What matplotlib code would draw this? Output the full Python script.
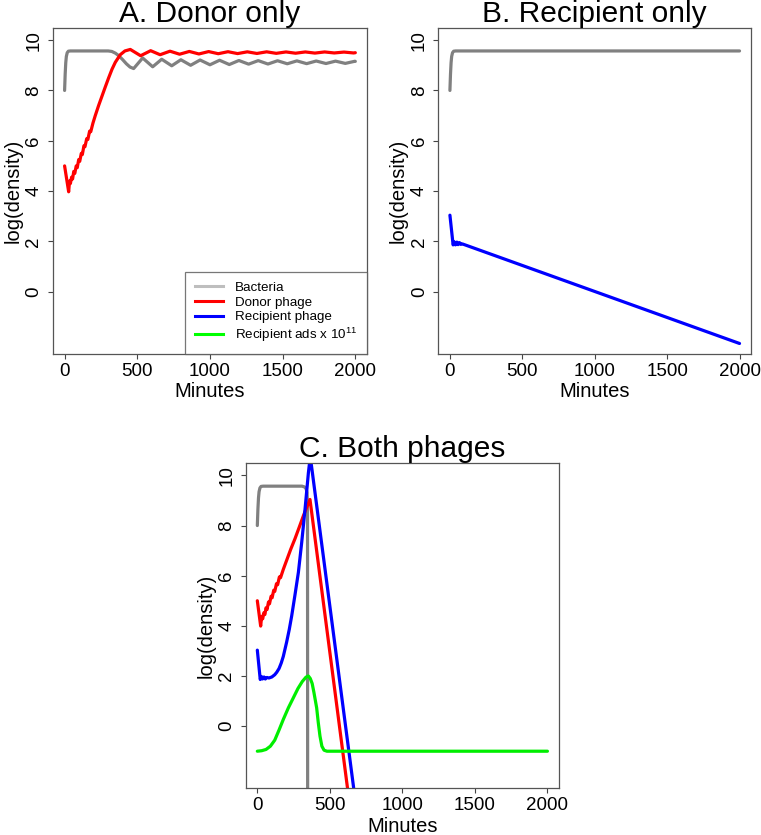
import matplotlib
matplotlib.use("Agg")
import matplotlib.pyplot as plt
from matplotlib.lines import Line2D

plt.rcParams['font.family'] = ['Liberation Sans', 'DejaVu Sans']
plt.rcParams['mathtext.default'] = 'regular'

# panel A: donor only
a_bact_t = [0, 4, 8, 12, 18, 26, 40, 300, 325, 350, 375, 400, 425, 450, 475,
            537, 606, 668, 737, 800, 867, 932, 1000, 1066, 1133, 1199, 1266,
            1332, 1399, 1465, 1532, 1598, 1665, 1731, 1798, 1864, 1931, 1997, 2000]
a_bact_y = [8.00, 8.65, 9.10, 9.35, 9.50, 9.56, 9.57, 9.57, 9.55, 9.48, 9.37, 9.22, 9.06, 8.93, 8.87,
            9.29, 8.94, 9.24, 8.98, 9.22, 9.00, 9.21, 9.02, 9.20, 9.03, 9.19, 9.045,
            9.185, 9.05, 9.18, 9.06, 9.175, 9.065, 9.17, 9.07, 9.165, 9.075, 9.16, 9.155]

a_donor_t = [0, 28, 34, 40, 48, 55, 63, 70, 80, 87, 97, 104, 115, 122, 133, 140,
             152, 160, 172, 180, 195, 211, 234, 257, 280, 303, 326, 349, 383, 415,
             452, 523, 592, 657, 725, 791, 858, 924, 991, 1057, 1124, 1190, 1257,
             1323, 1390, 1456, 1523, 1589, 1656, 1722, 1789, 1855, 1922, 1988, 2000]
a_donor_y = [5.00, 3.97, 4.40, 4.30, 4.55, 4.48, 4.78, 4.70, 5.00, 4.93, 5.25, 5.18, 5.50, 5.45, 5.80, 5.76,
             6.08, 6.05, 6.38, 6.36, 6.70, 7.00, 7.40, 7.77, 8.14, 8.50, 8.84, 9.12, 9.42, 9.57,
             9.63, 9.38, 9.58, 9.42, 9.56, 9.44, 9.55, 9.45, 9.545, 9.46, 9.54, 9.465, 9.535,
             9.47, 9.535, 9.475, 9.53, 9.48, 9.53, 9.485, 9.53, 9.49, 9.525, 9.49, 9.50]

# panel B: recipient only
b_bact_t = [0, 4, 8, 12, 18, 26, 40, 2000]
b_bact_y = [8.00, 8.65, 9.10, 9.35, 9.50, 9.56, 9.57, 9.57]
b_recip_t = [0, 22, 30, 38, 48, 56, 66, 75, 85, 2000]
b_recip_y = [3.04, 1.86, 1.98, 1.86, 1.97, 1.87, 1.95, 1.88, 1.90, -2.06]

# panel C: both phages
c_bact_t = [0, 4, 8, 12, 18, 26, 40, 308, 325, 337, 343, 346, 347]
c_bact_y = [8.00, 8.65, 9.10, 9.35, 9.50, 9.56, 9.57, 9.57, 9.54, 9.46, 9.30, 8.80, -4.0]
c_donor_t = [0, 23, 30, 37, 45, 52, 60, 67, 77, 84, 95, 102, 113, 120, 132, 140,
             152, 160, 179, 200, 230, 260, 290, 317, 340, 363, 650]
c_donor_y = [5.00, 3.99, 4.38, 4.28, 4.52, 4.45, 4.72, 4.65, 4.95, 4.88, 5.18, 5.12, 5.42, 5.37, 5.68, 5.64,
             5.95, 5.92, 6.25, 6.58, 7.05, 7.48, 7.95, 8.38, 8.72, 9.04, -3.73]
c_recip_t = [0, 20, 28, 36, 46, 55, 66, 80, 100, 120, 134, 150, 165, 179, 202, 220,
             237, 260, 283, 306, 329, 352, 365, 700]
c_recip_y = [3.03, 1.86, 1.98, 1.88, 1.96, 1.88, 1.94, 1.92, 1.96, 2.05, 2.15, 2.30, 2.52, 2.78, 3.35, 3.85,
             4.40, 5.25, 6.13, 7.33, 8.66, 10.10, 10.75, -4.05]
c_ads_t = [0, 30, 60, 90, 120, 150, 180, 214, 250, 280, 310, 335, 352, 365, 378,
           390, 409, 420, 432, 445, 460, 480, 2000]
c_ads_y = [-1.0, -0.98, -0.93, -0.80, -0.56, -0.15, 0.28, 0.73, 1.15, 1.50, 1.78, 1.95, 2.00, 1.90, 1.70,
           1.35, 0.73, 0.15, -0.40, -0.80, -0.96, -1.0, -1.0]

x_ticks = [0, 500, 1000, 1500, 2000]
y_ticks = [0, 2, 4, 6, 8, 10]

GREY = '#808080'
LW = 2.3


def setup(ax, title):
    ax.set_xlim(-80, 2080)
    ax.set_ylim(-2.48, 10.48)
    ax.set_xticks(x_ticks)
    ax.set_yticks(y_ticks)
    ax.tick_params(direction='out', length=3.6, width=0.8, color='#444444',
                   labelsize=13.5, pad=2.5)
    ax.tick_params(axis='y', labelrotation=90, pad=4)
    for lab in ax.get_yticklabels():
        lab.set_va('center')
    for s in ax.spines.values():
        s.set_color('#555555')
        s.set_linewidth(0.9)
    ax.set_xlabel('Minutes', fontsize=14.5, labelpad=2)
    ax.set_ylabel('log(density)', fontsize=14.5, labelpad=2)
    ax.set_title(title, fontsize=21.5, pad=1.5)


def line(ax, t, y, c):
    ax.plot(t, y, color=c, lw=LW, solid_capstyle='round', solid_joinstyle='round')


fig = plt.figure(figsize=(7.61, 8.35), dpi=100)
axA = fig.add_axes([0.0696, 0.576, 0.4126, 0.3904])
axB = fig.add_axes([0.576, 0.576, 0.411, 0.3904])
axC = fig.add_axes([0.3229, 0.0559, 0.4117, 0.3892])

line(axA, a_bact_t, a_bact_y, GREY)
line(axA, a_donor_t, a_donor_y, 'red')
setup(axA, 'A. Donor only')

handles = [Line2D([], [], color='#bebebe', lw=2.2),
           Line2D([], [], color='red', lw=2.2),
           Line2D([], [], color='blue', lw=2.2),
           Line2D([], [], color='#00ff00', lw=2.2)]
labels = ['Bacteria', 'Donor phage', 'Recipient phage', 'Recipient ads x 10$^{11}$']
leg = axA.legend(handles, labels, loc='lower right', fontsize=9.6, frameon=True,
                 fancybox=False, borderaxespad=0, borderpad=0.75, labelspacing=0.18,
                 handlelength=2.1, handletextpad=0.9)
leg.get_frame().set_edgecolor('#555555')
leg.get_frame().set_linewidth(0.9)

line(axB, b_bact_t, b_bact_y, GREY)
line(axB, b_recip_t, b_recip_y, 'blue')
setup(axB, 'B. Recipient only')

line(axC, c_bact_t, c_bact_y, GREY)
line(axC, c_donor_t, c_donor_y, 'red')
line(axC, c_recip_t, c_recip_y, 'blue')
line(axC, c_ads_t, c_ads_y, '#00ee00')
setup(axC, 'C. Both phages')

fig.savefig('out.png', dpi=100)
